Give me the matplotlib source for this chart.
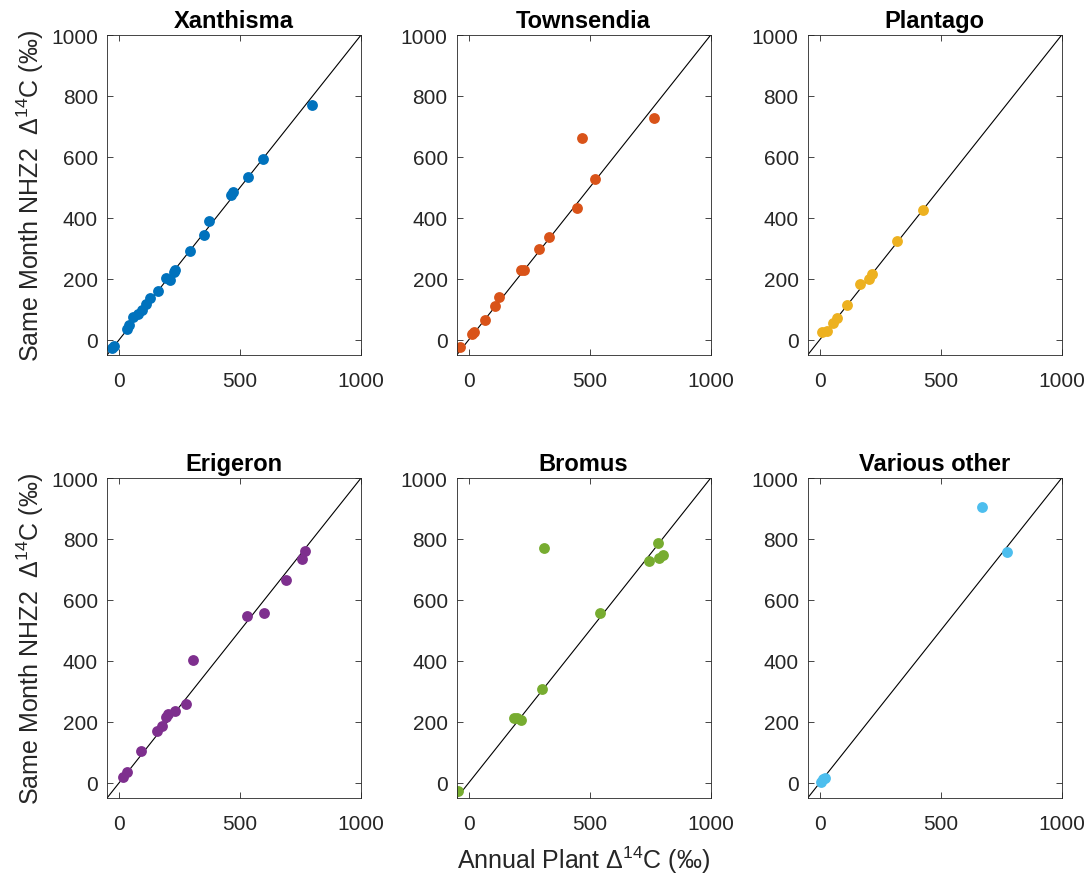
import numpy as np
import matplotlib
matplotlib.use('Agg')
import matplotlib.pyplot as plt

plt.rcParams['font.family'] = ['Liberation Sans', 'DejaVu Sans']
plt.rcParams['mathtext.fontset'] = 'custom'
plt.rcParams['mathtext.rm'] = 'Liberation Sans'
plt.rcParams['mathtext.it'] = 'Liberation Sans'

#-------------------------------------------------------
# Dados (x = planta anual, y = NHZ2 mesmo mês)
x_xan = [-30, -20, 34, 39, 59, 76, 94, 112, 128, 160, 193, 211, 227, 233, 294, 349, 372, 463, 469, 532, 594, 796]
y_xan = [-28, -22, 35, 48, 76, 85, 99, 117, 136, 159, 203, 197, 221, 230, 290, 345, 389, 476, 484, 535, 593, 771]

x_tow = [-36, 14, 21, 68, 108, 126, 214, 228, 290, 333, 446, 523, 466, 767]
y_tow = [-25, 19, 24, 66, 112, 139, 230, 230, 297, 336, 434, 527, 661, 727]

x_pla = [10, 28, 53, 70, 114, 166, 205, 217, 318, 428]
y_pla = [24, 30, 55, 70, 114, 183, 201, 215, 323, 426]

x_eri = [15, 32, 90, 156, 178, 194, 201, 229, 277, 305, 529, 597, 689, 758, 769]
y_eri = [19, 37, 105, 169, 185, 216, 227, 236, 258, 403, 547, 556, 666, 735, 759]

x_bro = [-45, 187, 201, 215, 303, 313, 542, 745, 784, 787, 802]
y_bro = [-27, 213, 211, 205, 307, 772, 556, 727, 788, 737, 748]

x_var = [4, 15, 22, 672, 776]
y_var = [4, 11, 15, 906, 758]

titles = ['Xanthisma', 'Townsendia', 'Plantago', 'Erigeron', 'Bromus', 'Various other']
xs = [x_xan, x_tow, x_pla, x_eri, x_bro, x_var]
ys = [y_xan, y_tow, y_pla, y_eri, y_bro, y_var]
cores = ['#0072BD', '#D95319', '#EDB120', '#7E2F8E', '#77AC30', '#4DBEEE']

#-------------------------------------------------------
fig = plt.figure(figsize=(10.91, 8.79), dpi=100)

lefts = [0.0981, 0.4186, 0.7403]
bottoms = [0.595, 0.091]
w, h = 0.2328, 0.364

ylab = 'Same Month NHZ2  Δ$^{14}$C (‰)'
xlab = 'Annual Plant Δ$^{14}$C (‰)'

for i in range(6):
    lin, col = divmod(i, 3)
    ax = fig.add_axes([lefts[col], bottoms[lin], w, h])
    ax.plot([-50, 1000], [-50, 1000], color='k', lw=0.8, zorder=1)
    ax.plot(xs[i], ys[i], 'o', color=cores[i], markersize=7.8, markeredgewidth=0, zorder=2)
    ax.set_xlim(-50, 1000)
    ax.set_ylim(-50, 1000)
    ax.set_xticks([0, 500, 1000])
    ax.set_yticks([0, 200, 400, 600, 800, 1000])
    ax.tick_params(direction='in', top=True, right=True, labelsize=15,
                   colors='#262626', length=4, width=0.6, pad=6.5)
    ax.tick_params(axis='x', pad=11.5)
    for s in ax.spines.values():
        s.set_color('#262626')
        s.set_linewidth(0.6)
    ax.set_title(titles[i], fontsize=17, fontweight='bold', pad=6)
    if col == 0:
        ax.set_ylabel(ylab, fontsize=18, color='#262626', labelpad=4)
    if i == 4:
        ax.set_xlabel(xlab, fontsize=18, color='#262626', labelpad=8)

plt.savefig('out.png', dpi=100)
